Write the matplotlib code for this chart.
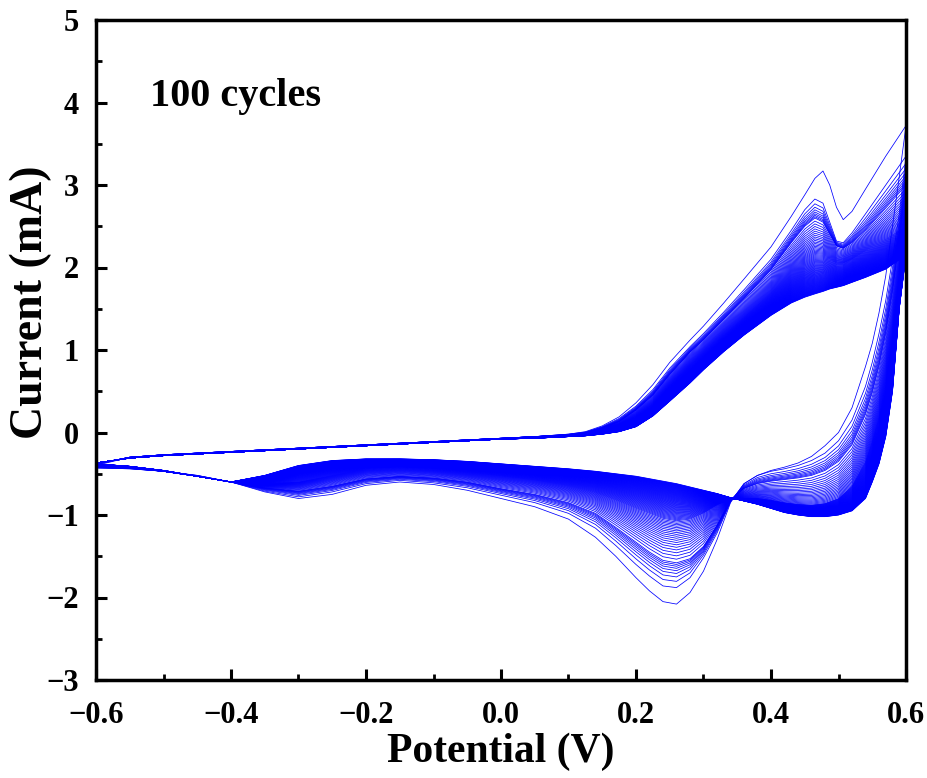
import numpy as np
import matplotlib
matplotlib.use("Agg")
import matplotlib.pyplot as plt
from matplotlib.ticker import MultipleLocator

# ---------------- data ----------------
key_cycles = [1, 2, 10, 30, 100]

# forward (anodic) sweep potentials, V
E_anodic = [-0.6, -0.55, -0.5, -0.45, -0.4, -0.35, -0.3, -0.25, -0.2, -0.15,
            -0.1, -0.05, 0.0, 0.05, 0.1, 0.125, 0.15, 0.175, 0.2, 0.225,
            0.25, 0.28, 0.3, 0.33, 0.36, 0.4, 0.43, 0.45, 0.465, 0.477,
            0.487, 0.497, 0.507, 0.52, 0.54, 0.57, 0.6]

I_anodic_c1 = [-0.40, -0.30, -0.27, -0.25, -0.23, -0.21, -0.19, -0.17, -0.15, -0.13,
               -0.11, -0.09, -0.07, -0.05, -0.02, 0.01, 0.08, 0.19, 0.36, 0.58,
               0.85, 1.12, 1.29, 1.57, 1.86, 2.25, 2.62, 2.88, 3.08, 3.17,
               3.00, 2.73, 2.58, 2.68, 2.95, 3.35, 3.72]
I_anodic_c2 = [-0.39, -0.30, -0.27, -0.25, -0.23, -0.21, -0.19, -0.17, -0.15, -0.13,
               -0.11, -0.09, -0.07, -0.05, -0.02, 0.005, 0.07, 0.17, 0.32, 0.52,
               0.78, 1.04, 1.20, 1.46, 1.73, 2.10, 2.45, 2.70, 2.83, 2.78,
               2.55, 2.32, 2.30, 2.42, 2.65, 3.00, 3.35]
I_anodic_c10 = [-0.38, -0.30, -0.27, -0.25, -0.23, -0.21, -0.19, -0.17, -0.15, -0.13,
                -0.11, -0.09, -0.07, -0.05, -0.03, -0.01, 0.05, 0.13, 0.27, 0.45,
                0.70, 0.97, 1.12, 1.37, 1.62, 1.97, 2.30, 2.50, 2.60, 2.55,
                2.40, 2.26, 2.23, 2.30, 2.45, 2.72, 3.00]
I_anodic_c30 = [-0.37, -0.31, -0.28, -0.26, -0.24, -0.22, -0.20, -0.18, -0.16, -0.14,
                -0.12, -0.10, -0.08, -0.06, -0.04, -0.02, 0.02, 0.07, 0.17, 0.32,
                0.55, 0.80, 0.95, 1.18, 1.40, 1.70, 1.95, 2.10, 2.17, 2.16,
                2.10, 2.05, 2.05, 2.10, 2.20, 2.35, 2.50]
I_anodic_c100 = [-0.37, -0.31, -0.28, -0.26, -0.24, -0.22, -0.20, -0.18, -0.16, -0.14,
                 -0.12, -0.10, -0.08, -0.07, -0.05, -0.04, -0.02, 0.01, 0.07, 0.20,
                 0.38, 0.60, 0.76, 0.98, 1.18, 1.42, 1.57, 1.64, 1.68, 1.71,
                 1.74, 1.76, 1.78, 1.82, 1.88, 1.98, 2.15]

# reverse (cathodic) sweep potentials, V
E_cathodic = [0.6, 0.59, 0.58, 0.57, 0.56, 0.55, 0.54, 0.52, 0.5, 0.48,
              0.46, 0.44, 0.42, 0.4, 0.38, 0.36, 0.34, 0.32, 0.3, 0.28,
              0.26, 0.24, 0.22, 0.2, 0.17, 0.14, 0.1, 0.05, 0.0, -0.05,
              -0.1, -0.15, -0.2, -0.25, -0.3, -0.35, -0.4, -0.45, -0.5, -0.55,
              -0.6]

I_cathodic_c1 = [3.72, 3.10, 2.50, 1.90, 1.45, 1.08, 0.80, 0.30, 0.00, -0.16,
                 -0.29, -0.37, -0.42, -0.46, -0.52, -0.62, -0.85, -1.30, -1.68, -1.94,
                 -2.08, -2.05, -1.92, -1.76, -1.50, -1.27, -1.05, -0.90, -0.80, -0.70,
                 -0.63, -0.60, -0.64, -0.75, -0.80, -0.72, -0.60, -0.52, -0.47, -0.44,
                 -0.43]
I_cathodic_c2 = [3.35, 2.65, 2.10, 1.60, 1.20, 0.85, 0.56, 0.15, -0.10, -0.25,
                 -0.34, -0.40, -0.44, -0.47, -0.52, -0.62, -0.84, -1.22, -1.52, -1.76,
                 -1.88, -1.86, -1.74, -1.60, -1.37, -1.16, -0.98, -0.85, -0.76, -0.67,
                 -0.61, -0.58, -0.62, -0.72, -0.78, -0.71, -0.60, -0.52, -0.47, -0.44,
                 -0.43]
I_cathodic_c10 = [3.00, 2.30, 1.70, 1.20, 0.80, 0.48, 0.22, -0.15, -0.35, -0.46,
                  -0.52, -0.55, -0.57, -0.59, -0.62, -0.68, -0.82, -1.12, -1.38, -1.53,
                  -1.58, -1.55, -1.45, -1.33, -1.15, -0.98, -0.85, -0.75, -0.68, -0.60,
                  -0.55, -0.53, -0.56, -0.65, -0.71, -0.67, -0.60, -0.53, -0.47, -0.43,
                  -0.41]
I_cathodic_c30 = [2.50, 1.75, 1.10, 0.60, 0.20, -0.10, -0.35, -0.65, -0.80, -0.86,
                  -0.88, -0.87, -0.85, -0.82, -0.80, -0.80, -0.81, -0.88, -0.98, -1.05,
                  -1.07, -1.04, -0.98, -0.92, -0.82, -0.73, -0.65, -0.58, -0.53, -0.48,
                  -0.44, -0.42, -0.44, -0.52, -0.60, -0.62, -0.60, -0.53, -0.47, -0.42,
                  -0.40]
I_cathodic_c100 = [2.15, 1.50, 0.50, -0.05, -0.38, -0.60, -0.80, -0.95, -1.00, -1.02,
                   -1.02, -1.00, -0.97, -0.92, -0.87, -0.83, -0.79, -0.74, -0.70, -0.66,
                   -0.62, -0.59, -0.56, -0.53, -0.50, -0.47, -0.44, -0.41, -0.38, -0.35,
                   -0.33, -0.32, -0.32, -0.34, -0.40, -0.52, -0.60, -0.53, -0.46, -0.41,
                   -0.38]

n_cycles = 100
x_ticks = [-0.6, -0.4, -0.2, 0.0, 0.2, 0.4, 0.6]
y_ticks = [-3, -2, -1, 0, 1, 2, 3, 4, 5]
annotation = "100 cycles"

# ---------------- plotting ----------------
plt.rcParams['font.family'] = ['Liberation Serif', 'DejaVu Serif']
plt.rcParams['font.weight'] = 'bold'

W, H = 928, 778
fig = plt.figure(figsize=(W / 100, H / 100), dpi=100)
ax = fig.add_axes([96 / W, 1 - 680 / H, 810 / W, 660 / H])

an_keys = np.array([I_anodic_c1, I_anodic_c2, I_anodic_c10, I_anodic_c30, I_anodic_c100])
ca_keys = np.array([I_cathodic_c1, I_cathodic_c2, I_cathodic_c10, I_cathodic_c30, I_cathodic_c100])
logk = np.log(key_cycles)

E = np.concatenate([E_anodic, E_cathodic[1:]])
for n in range(n_cycles, 0, -1):
    ln = np.log(n)
    ia = np.array([np.interp(ln, logk, an_keys[:, j]) for j in range(an_keys.shape[1])])
    ic = np.array([np.interp(ln, logk, ca_keys[:, j]) for j in range(ca_keys.shape[1])])
    I = np.concatenate([ia, ic[1:]])
    ax.plot(E, I, color='#0000FF', lw=0.55)

ax.set_xlim(-0.6, 0.6)
ax.set_ylim(-3, 5)
ax.set_xticks(x_ticks)
ax.set_yticks(y_ticks)
ax.set_xticklabels([f"{v:.1f}".replace('-', '\u2212') for v in x_ticks])
ax.set_yticklabels([f"{v:d}".replace('-', '\u2212') for v in y_ticks])
ax.xaxis.set_minor_locator(MultipleLocator(0.1))
ax.yaxis.set_minor_locator(MultipleLocator(0.5))
ax.tick_params(which='major', direction='in', length=8, width=2.2, labelsize=22)
ax.tick_params(axis='x', which='major', pad=15)
ax.tick_params(axis='y', which='major', pad=12)
ax.tick_params(which='minor', direction='in', length=4, width=2.0)
for s in ax.spines.values():
    s.set_linewidth(2.5)
for lab in ax.get_xticklabels() + ax.get_yticklabels():
    lab.set_fontweight('bold')

ax.set_xlabel('Potential (V)', fontsize=30, fontweight='bold', labelpad=2)
ax.set_ylabel('Current (mA)', fontsize=33, fontweight='bold')
# label's right edge at about x = 52 px, centred near y = 302 px
ax.yaxis.set_label_coords(-(96 - 52) / 810, (680 - 302) / 660)
ax.text(-0.52, 3.96, annotation, fontsize=29, fontweight='bold', va='baseline', ha='left')

fig.savefig('out.png', dpi=100)
